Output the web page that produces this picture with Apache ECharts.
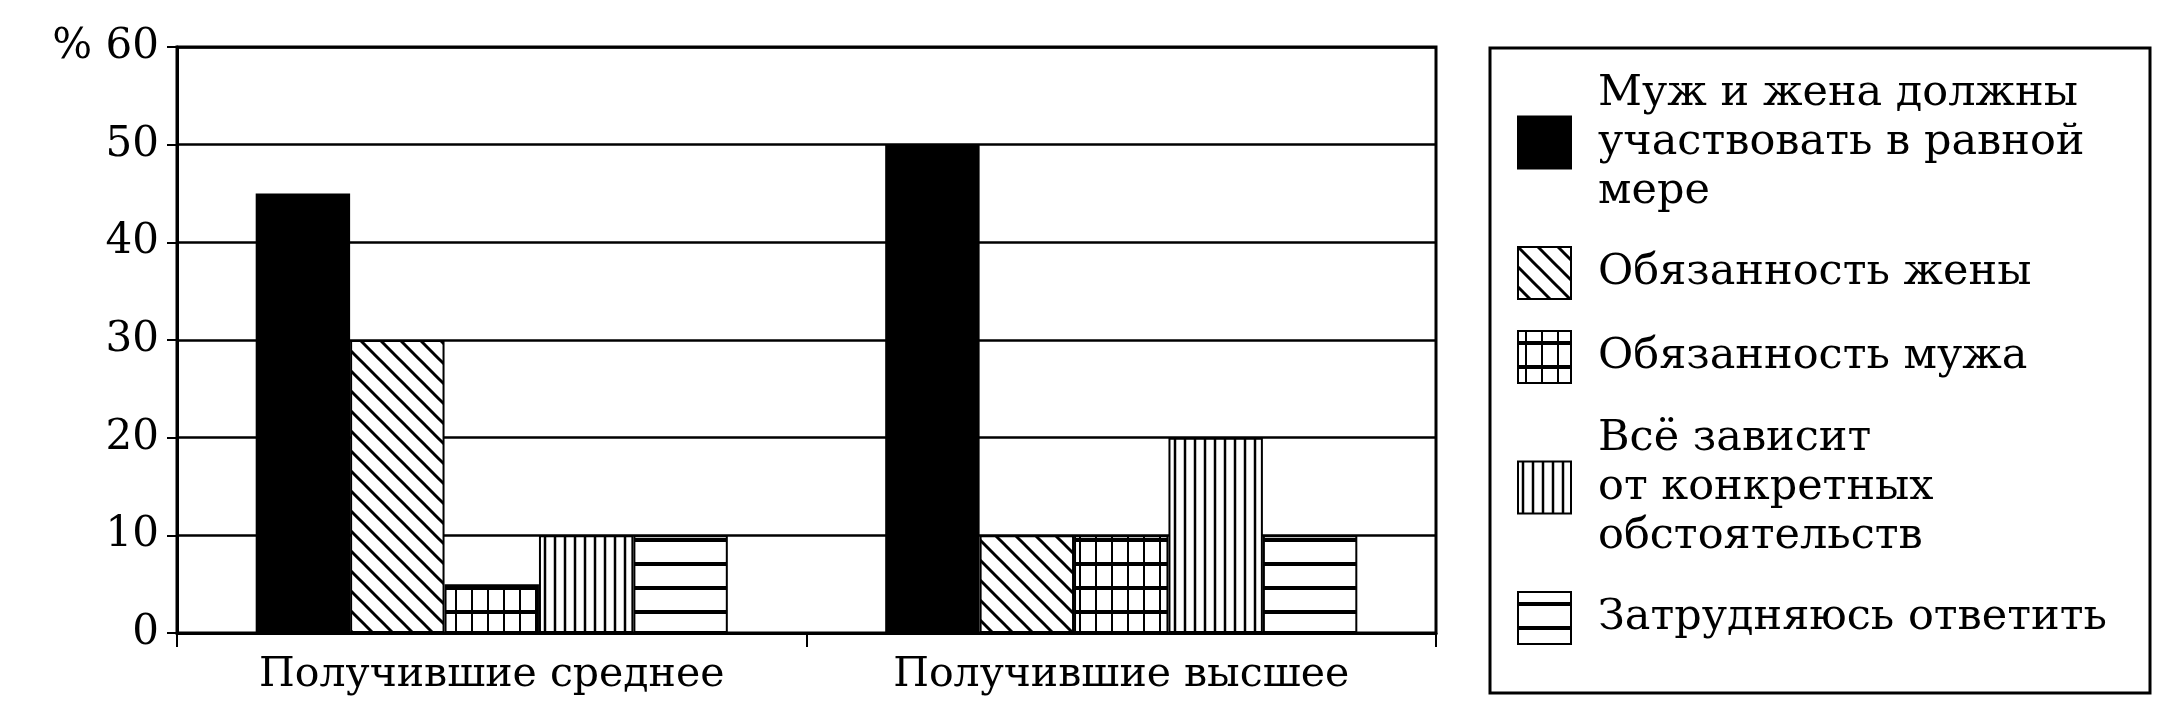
<!DOCTYPE html>
<html><head><meta charset="utf-8">
<script src="https://cdn.jsdelivr.net/npm/echarts@6/dist/echarts.min.js"></script>
<style>html,body{margin:0;background:#fff}#c{width:2172px;height:724px}</style></head>
<body><div id="c"></div>
<script>
const categories = ['Получившие среднее', 'Получившие высшее'];
const seriesNames = ['Муж и жена должны\nучаствовать в равной\nмере', 'Обязанность жены', 'Обязанность мужа', 'Всё зависит\nот конкретных\nобстоятельств', 'Затрудняюсь ответить'];
const values = [[45, 50], [30, 10], [5, 10], [10, 20], [10, 10]];
const yTicks = [0, 10, 20, 30, 40, 50, 60];

function pat(kind) {
  const c = document.createElement('canvas');
  const w = kind === 'diag' ? 20 : (kind === 'vert' ? 10 : (kind === 'grid' ? 16 : 24));
  const h = kind === 'grid' ? 24 : w;
  c.width = w; c.height = h;
  const g = c.getContext('2d');
  g.fillStyle = '#fff'; g.fillRect(0, 0, w, h);
  g.strokeStyle = '#000';
  if (kind === 'diag') {
    g.lineWidth = 3;
    for (let k = -1; k <= 1; k++) { g.beginPath(); g.moveTo(k * w - 2, -2); g.lineTo(k * w + w + 2, w + 2); g.stroke(); }
  } else if (kind === 'vert') {
    g.lineWidth = 2.5; g.beginPath(); g.moveTo(w / 2, 0); g.lineTo(w / 2, h); g.stroke();
  } else if (kind === 'grid') {
    g.lineWidth = 2; g.beginPath(); g.moveTo(w / 2, 0); g.lineTo(w / 2, h); g.stroke();
    g.lineWidth = 4; g.beginPath(); g.moveTo(0, h / 2); g.lineTo(w, h / 2); g.stroke();
  } else {
    g.lineWidth = 4; g.beginPath(); g.moveTo(0, h / 2); g.lineTo(w, h / 2); g.stroke();
  }
  return { image: c, repeat: 'repeat' };
}
const fills = ['#000', pat('diag'), pat('grid'), pat('vert'), pat('horiz')];
const font = '"DejaVu Serif", "Liberation Serif", serif';

const chart = echarts.init(document.getElementById('c'));
chart.setOption({
  animation: false,
  grid: { left: 177, right: 736, top: 47, bottom: 91, show: true, borderColor: '#000', borderWidth: 3 },
  xAxis: {
    type: 'category', data: categories,
    axisLine: { lineStyle: { color: '#000', width: 3 } },
    axisTick: { show: true, length: 14, lineStyle: { color: '#000', width: 2 } },
    axisLabel: { color: '#000', fontFamily: font, fontSize: 41, margin: 22 }
  },
  yAxis: {
    type: 'value', min: 0, max: 60, interval: 10,
    axisLine: { show: true, lineStyle: { color: '#000', width: 3 } },
    axisTick: { show: true, length: 10, lineStyle: { color: '#000', width: 2 } },
    splitLine: { lineStyle: { color: '#000', width: 2.5 } },
    axisLabel: { color: '#000', fontFamily: font, fontSize: 42, margin: 18,
      formatter: v => (v === 60 ? '% ' + v : '' + v) }
  },
  legend: {
    orient: 'vertical', left: 1512, top: 64, itemWidth: 53, itemGap: 30, itemHeight: 52,
    icon: 'rect',
    data: seriesNames,
    textStyle: { color: '#000', fontFamily: font, fontSize: 43, lineHeight: 49, padding: [0, 0, 0, 22] },
    selectedMode: false
  },
  graphic: [{ type: 'rect', shape: { x: 1490, y: 48, width: 660, height: 645 },
    style: { fill: 'none', stroke: '#000', lineWidth: 3 } }],
  series: seriesNames.map((n, i) => ({
    name: n, type: 'bar', data: values[i], barGap: '0%', barCategoryGap: '25%',
    itemStyle: { color: fills[i], borderColor: '#000', borderWidth: 2 }
  }))
});
</script></body></html>
